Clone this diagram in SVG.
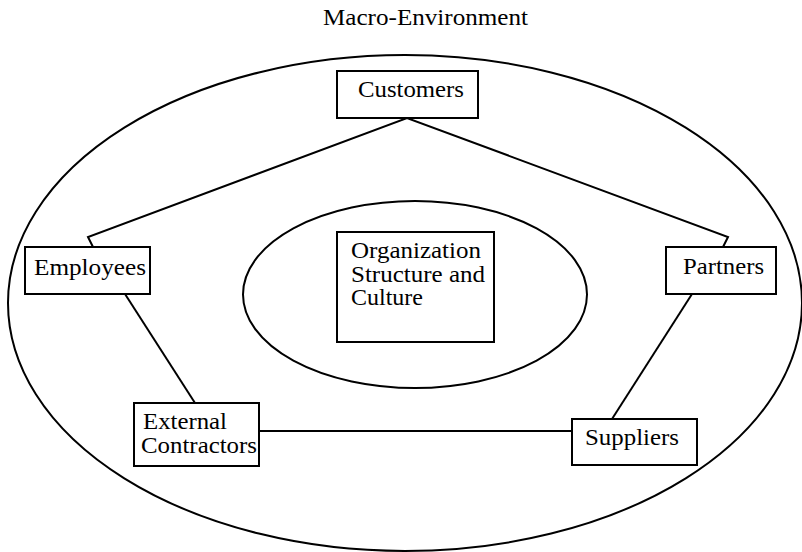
<svg xmlns="http://www.w3.org/2000/svg" width="802" height="552" viewBox="0 0 802 552">
<style>
.box{fill:#fff;stroke:#000;stroke-width:2}
.ell{fill:none;stroke:#000;stroke-width:2}
.ln{fill:none;stroke:#000;stroke-width:2}
.t{font-family:'Liberation Serif',Tinos,'Times New Roman','Nimbus Roman','Noto Serif','DejaVu Serif',serif;font-size:22.5px;fill:#000}
</style>
<rect width="802" height="552" fill="#fff"/>
<text id="title" class="t" x="323" y="25" textLength="205" lengthAdjust="spacingAndGlyphs">Macro-Environment</text>
<ellipse id="macro" class="ell" cx="405" cy="303" rx="397" ry="248"/>
<g id="connectors">
<polyline class="ln" points="93,247 88,237 407,118 728,237 723,247"/>
<line class="ln" x1="125" y1="294" x2="195" y2="403"/>
<line class="ln" x1="259" y1="431" x2="572" y2="431"/>
<line class="ln" x1="692" y1="294" x2="612" y2="419"/>
</g>
<g id="org">
<ellipse class="ell" cx="415" cy="294.5" rx="172" ry="93.5"/>
<rect class="box" x="337" y="232" width="157" height="110"/>
<text class="t" x="351" y="258" textLength="130" lengthAdjust="spacingAndGlyphs">Organization</text>
<text class="t" x="351" y="282" textLength="134" lengthAdjust="spacingAndGlyphs">Structure and</text>
<text class="t" x="351" y="305" textLength="72" lengthAdjust="spacingAndGlyphs">Culture</text>
</g>
<g id="customers">
<rect class="box" x="337" y="71" width="141" height="47"/>
<text class="t" x="358" y="97" textLength="106" lengthAdjust="spacingAndGlyphs">Customers</text>
</g>
<g id="employees">
<rect class="box" x="25" y="247" width="125" height="47"/>
<text class="t" x="34" y="275" textLength="112" lengthAdjust="spacingAndGlyphs">Employees</text>
</g>
<g id="partners">
<rect class="box" x="666" y="247" width="110" height="47"/>
<text class="t" x="683" y="274" textLength="81" lengthAdjust="spacingAndGlyphs">Partners</text>
</g>
<g id="external-contractors">
<rect class="box" x="134" y="403" width="125" height="63"/>
<text class="t" x="143" y="429" textLength="84" lengthAdjust="spacingAndGlyphs">External</text>
<text class="t" x="141" y="453" textLength="116" lengthAdjust="spacingAndGlyphs">Contractors</text>
</g>
<g id="suppliers">
<rect class="box" x="572" y="419" width="125" height="46"/>
<text class="t" x="585" y="445" textLength="94" lengthAdjust="spacingAndGlyphs">Suppliers</text>
</g>
</svg>
